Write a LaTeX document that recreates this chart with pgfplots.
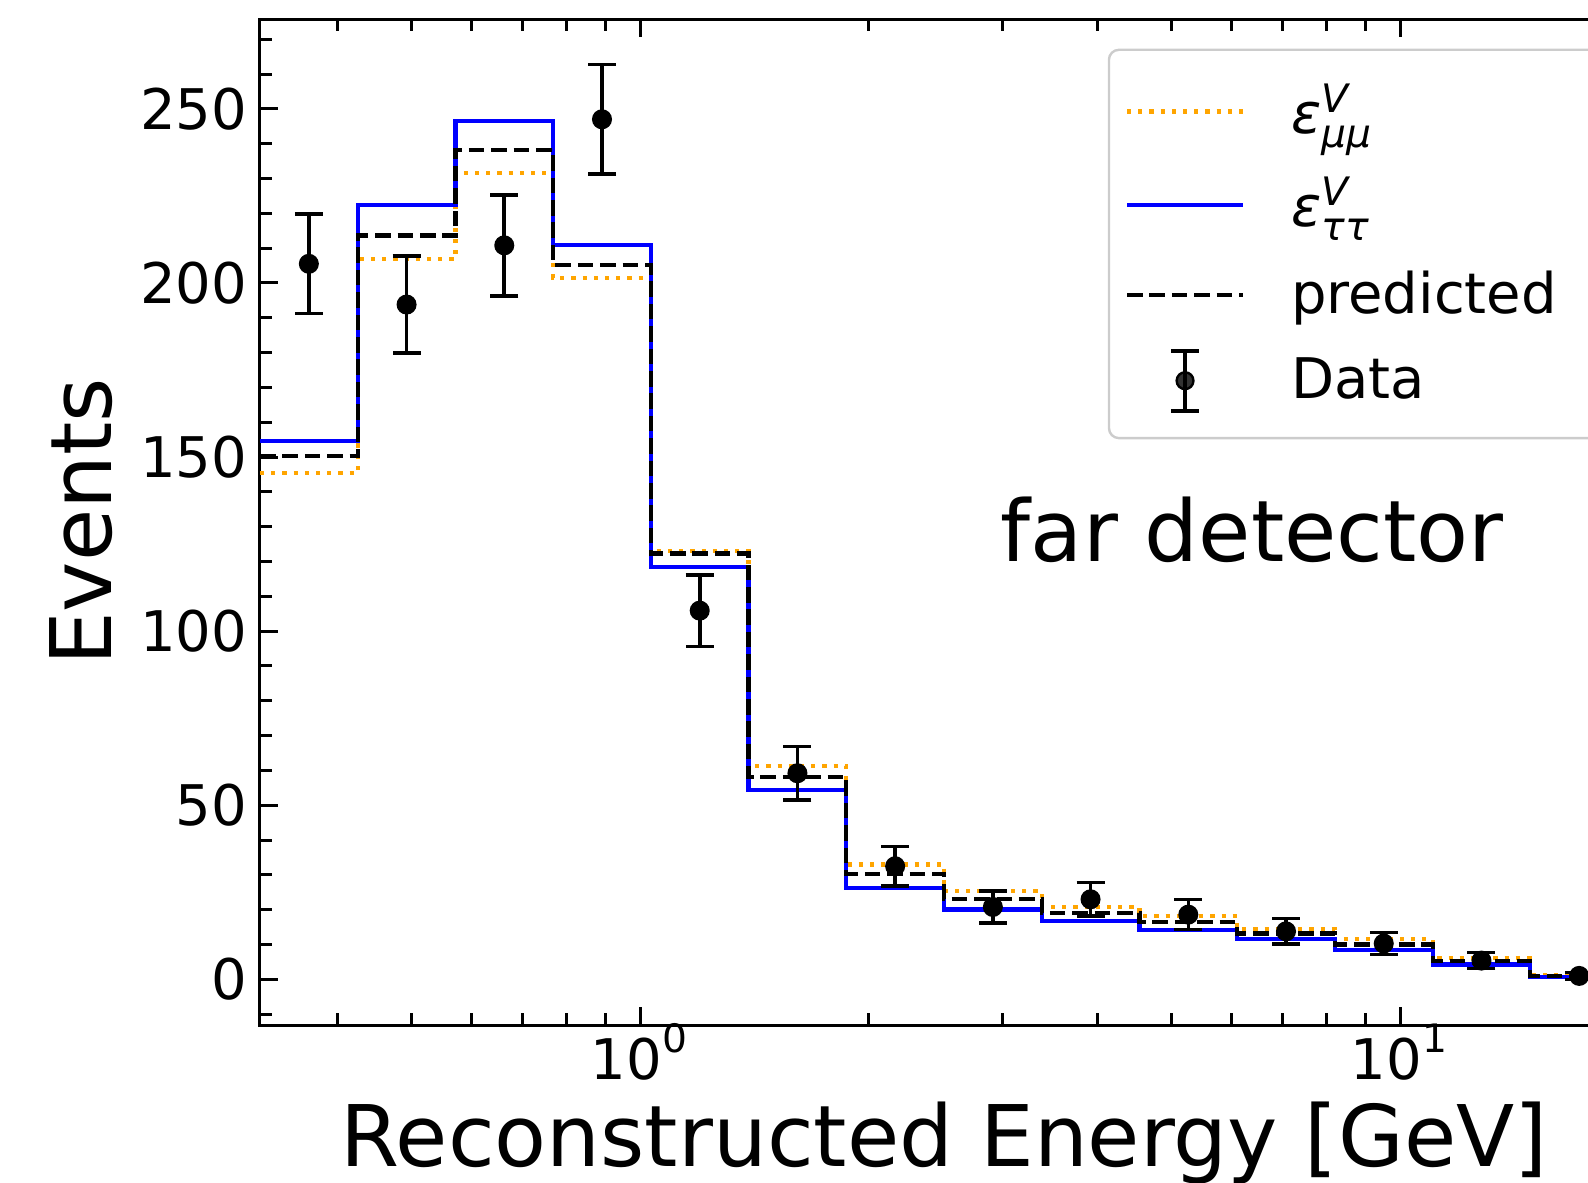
\documentclass[border=0pt]{standalone}
\usepackage{fontspec}
\setmainfont{DejaVu Sans}
\usepackage{amsmath}
\usepackage{pgfplots}
\usepackage{pgfplotstable}
\pgfplotsset{compat=1.18}
\definecolor{mplorange}{HTML}{FFA500}

% bin edges (log-spaced), heights of the three histograms
\pgfplotstableread{
x tt mm pred
0.31623 154.5 145.4 150.2
0.42519 222.3 206.8 213.6
0.57166 246.6 231.6 238.2
0.76857 210.8 201.4 205.2
1.03344 118.5 123.0 122.3
1.38950 54.5 61.2 58.2
1.86817 26.3 33.0 30.3
2.51189 20.1 25.3 23.1
3.37730 16.7 20.7 19.1
4.54090 14.3 18.2 16.4
6.10540 11.5 14.5 13.2
8.20890 8.4 11.5 10.0
11.0371 4.3 6.2 5.3
14.8398 0.8 1.1 0.96
19.9526 0.8 1.1 0.96
}\hist

\pgfplotstableread{
x y err
0.36668 205.5 14.3
0.49302 193.8 13.9
0.66286 210.8 14.5
0.89119 247.0 15.7
1.19831 105.9 10.3
1.61118 59.2 7.7
2.16621 32.5 5.7
2.91263 20.8 4.6
3.91613 23.0 4.8
5.26537 18.6 4.3
7.07947 13.8 3.7
9.51850 10.3 3.2
12.7979 5.4 2.3
17.2073 1.0 1.0
}\data

\begin{document}
\begin{tikzpicture}
\begin{axis}[
  scale only axis,
  width=342pt, height=251.5pt,
  xmode=log,
  xmin=0.316228, xmax=19.9526,
  ymin=-13.1, ymax=275.8,
  axis line style={line width=0.75pt},
  tick align=inside,
  tick pos=both,
  major tick length=4.5pt,
  minor tick length=3pt,
  every tick/.style={black, line width=0.75pt},
  xtick={1,10},
  xticklabels={$\text{10}^{\text{0}}$, $\text{10}^{\text{1}}$},
  minor xtick={0.4,0.5,0.6,0.7,0.8,0.9,2,3,4,5,6,7,8,9},
  ytick={0,50,100,150,200,250},
  minor ytick={-10,10,20,30,40,60,70,80,90,110,120,130,140,160,170,180,190,210,220,230,240,260,270},
  /pgf/number format/assume math mode=true,
  tick label style={font=\fontsize{14}{16.8}\selectfont},
  yticklabel style={inner sep=0pt, xshift=-3pt},
  xticklabel style={inner sep=0pt, anchor=base, yshift=-13.5pt},
  xlabel={Reconstructed Energy [GeV]},
  ylabel={Events},
  every axis x label/.style={at={(rel axis cs:0.5,-0.1409)}, anchor=base,
    font=\fontsize{21.25}{25}\selectfont},
  every axis y label/.style={at={(rel axis cs:-0.1082,0.5)}, rotate=90, anchor=base,
    font=\fontsize{21.25}{25}\selectfont},
  legend image code/.code={\draw[#1] (0pt,0pt) -- (29pt,0pt);},
  legend cell align=left,
  legend style={
    at={(rel axis cs:0.6197,0.9706)}, anchor=north west,
    draw=black!20, line width=0.6pt, rounded corners=2.5pt,
    fill=white, fill opacity=0.8, text opacity=1,
    font=\fontsize{14}{16.8}\selectfont,
    inner xsep=4pt, inner ysep=8.5pt,
    row sep=9.5pt, column sep=11.5pt,
    nodes={inner sep=0pt, text width=80pt},
  },
]
\addplot[const plot, color=mplorange, line width=1.05pt, dash pattern=on 1.05pt off 1.75pt]
  table[x=x, y=mm] {\hist};
\addlegendentry{$\text{\itshape ε}^{\text{\itshape V}}_{\text{\itshape μμ}}$}
\addplot[const plot, color=blue, line width=1.05pt]
  table[x=x, y=tt] {\hist};
\addlegendentry{$\text{\itshape ε}^{\text{\itshape V}}_{\text{\itshape ττ}}$}
\addplot[const plot, color=black, line width=1.05pt, dash pattern=on 3.9pt off 1.7pt]
  table[x=x, y=pred] {\hist};
\addlegendentry{predicted}
\addplot[only marks, mark=*, mark size=2.3pt, color=black,
  legend image code/.code={
    \draw[overlay, black, line width=0.9pt] (14.5pt,-7.5pt) -- (14.5pt,7.5pt);
    \draw[overlay, black, line width=0.9pt] (11pt,-7.5pt) -- (18pt,-7.5pt);
    \draw[overlay, black, line width=0.9pt] (11pt,7.5pt) -- (18pt,7.5pt);
    \fill[overlay, black] (14.5pt,0pt) circle (2.1pt);
    \path[draw=none, fill=none] (0pt,0pt) -- (29pt,0pt);
  },
  error bars/.cd, y dir=both, y explicit,
  error bar style={line width=0.9pt, black},
  error mark options={black, line width=0.9pt, mark size=3.5pt, rotate=90}]
  table[x=x, y=y, y error=err] {\data};
\addlegendentry{Data}
\node[anchor=base west, font=\fontsize{21.25}{25}\selectfont] at (axis cs:2.86,120) {far detector};
\coordinate (SW) at (rel axis cs:0,0);
\coordinate (NE) at (rel axis cs:1,1);
\end{axis}
\pgfresetboundingbox
\path[use as bounding box] ([shift={(-65pt,-39.25pt)}]SW) rectangle ([shift={(-10pt,4.75pt)}]NE);
\end{tikzpicture}
\end{document}
